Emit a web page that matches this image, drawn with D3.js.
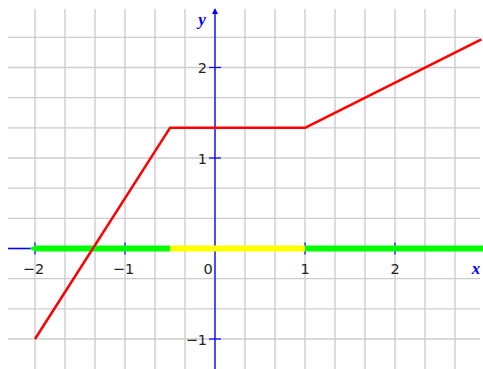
<!DOCTYPE html>
<html><head><meta charset="utf-8">
<script src="https://cdn.jsdelivr.net/npm/d3@7"></script>
<style>body{margin:0;background:#fff}svg{display:block}</style>
</head><body>
<script>
const W = 483, H = 369;
// data
const redPoints = [[-2, -1], [-0.5, 4/3], [1, 4/3], [2.96, 2.31]];
const bandSegments = [
  {from: -2, to: -0.5, color: "#00ff00"},
  {from: -0.5, to: 1, color: "#ffff00"},
  {from: 1, to: 2.98, color: "#00ff00"}
];
const xTicks = [-2, -1, 1, 2];
const yTicks = [-1, 1, 2];
const xGrid = d3.range(-6, 9).map(k => k / 3);
const yGrid = d3.range(-3, 8).map(k => k / 3);

const x = d3.scaleLinear().domain([-2, 1]).range([35, 305]);
const y = d3.scaleLinear().domain([-1, 2]).range([339, 67.5]);

const svg = d3.select("body").append("svg").attr("width", W).attr("height", H);
const fontLbl = "DejaVu Sans, Verdana, sans-serif";
const fs = 14.5;

// grid
svg.append("g").selectAll("line").data(xGrid).join("line")
  .attr("x1", d => x(d)).attr("x2", d => x(d)).attr("y1", 9).attr("y2", H)
  .attr("stroke", "#cccccc").attr("stroke-width", 1.4);
svg.append("g").selectAll("line").data(yGrid).join("line")
  .attr("x1", 8).attr("x2", 480).attr("y1", d => y(d)).attr("y2", d => y(d))
  .attr("stroke", "#cccccc").attr("stroke-width", 1.4);

// axes
svg.append("line").attr("x1", 8).attr("x2", W).attr("y1", y(0)).attr("y2", y(0))
  .attr("stroke", "#0000ff").attr("stroke-width", 1.3);
svg.append("line").attr("x1", x(0)).attr("x2", x(0)).attr("y1", 10).attr("y2", H)
  .attr("stroke", "#0000ff").attr("stroke-width", 1.3);
svg.append("path").attr("d", `M${x(0)},8 L${x(0)-3},14 L${x(0)+3},14 Z`).attr("fill", "#0000ff");

// ticks
svg.append("g").selectAll("line").data(xTicks).join("line")
  .attr("x1", d => x(d)).attr("x2", d => x(d)).attr("y1", y(0) - 6).attr("y2", y(0) + 6)
  .attr("stroke", "#0000ff").attr("stroke-width", 1.2);
svg.append("g").selectAll("line").data(yTicks).join("line")
  .attr("x1", x(0) - 6).attr("x2", x(0) + 6).attr("y1", d => y(d)).attr("y2", d => y(d))
  .attr("stroke", "#0000ff").attr("stroke-width", 1.2);

// bands on x axis
svg.append("g").selectAll("line").data(bandSegments).join("line")
  .attr("x1", d => x(d.from)).attr("x2", d => x(d.to))
  .attr("y1", y(0)).attr("y2", y(0))
  .attr("stroke", d => d.color).attr("stroke-width", 6);
svg.append("path").attr("d", `M${x(-2)-5},${y(0)} L${x(-2)},${y(0)-3} L${x(-2)},${y(0)+3} Z`).attr("fill", "#00ff00");

// red function line
svg.append("path").datum(redPoints)
  .attr("d", d3.line().x(d => x(d[0])).y(d => y(d[1])))
  .attr("fill", "none").attr("stroke", "#ff0000").attr("stroke-width", 2.5)
  .attr("stroke-linejoin", "round");

// tick labels
svg.append("g").selectAll("text").data(xTicks).join("text")
  .attr("x", d => x(d) - (d < 0 ? 1.5 : 0)).attr("y", y(0) + 25.5)
  .attr("text-anchor", "middle").attr("font-family", fontLbl).attr("font-size", fs)
  .attr("fill", "#222").text(d => d < 0 ? "\u2212" + Math.abs(d) : d);
svg.append("text").attr("x", x(0) - 7).attr("y", y(0) + 25.5)
  .attr("text-anchor", "middle").attr("font-family", fontLbl).attr("font-size", fs)
  .attr("fill", "#222").text("0");
svg.append("g").selectAll("text").data(yTicks).join("text")
  .attr("x", x(0) - 8).attr("y", d => y(d) + 5.5)
  .attr("text-anchor", "end").attr("font-family", fontLbl).attr("font-size", fs)
  .attr("fill", "#222").text(d => d < 0 ? "\u2212" + Math.abs(d) : d);

// axis names
svg.append("text").attr("x", 476).attr("y", y(0) + 25).attr("text-anchor", "middle")
  .attr("font-family", "Liberation Serif, serif").attr("font-style", "italic").attr("font-weight", "bold")
  .attr("font-size", 17).attr("fill", "#0000ff").text("x");
svg.append("text").attr("x", 202).attr("y", 25).attr("text-anchor", "middle")
  .attr("font-family", "Liberation Serif, serif").attr("font-style", "italic").attr("font-weight", "bold")
  .attr("font-size", 17).attr("fill", "#0000ff").text("y");
</script>
</body></html>
